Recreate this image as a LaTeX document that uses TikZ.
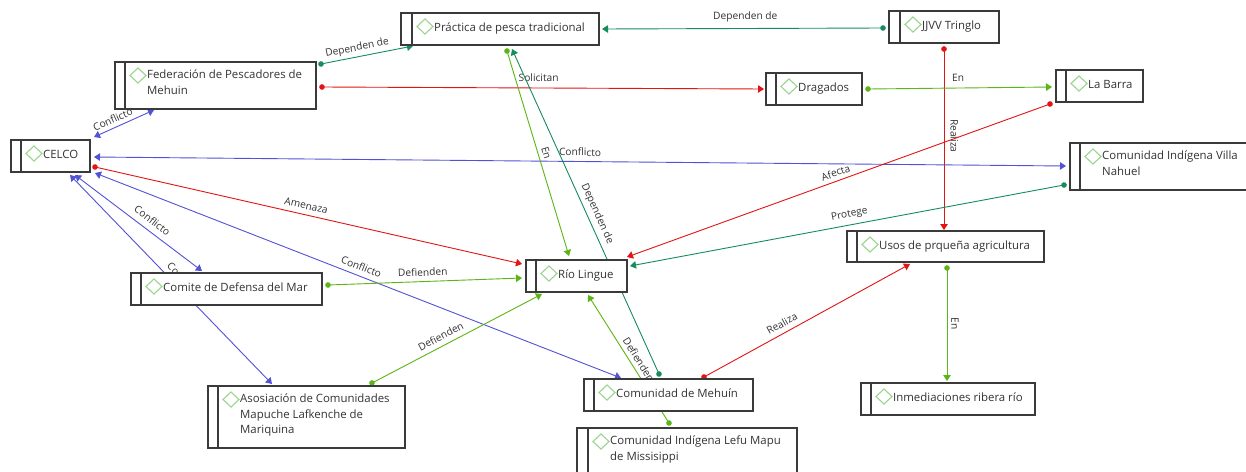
\documentclass[tikz,border=0pt]{standalone}
\usepackage{fontspec}
\newfontfamily\nodefont{Open Sans}
\usetikzlibrary{arrows.meta,backgrounds}
\definecolor{cblue}{HTML}{5252D6}
\definecolor{cred}{HTML}{E31414}
\definecolor{cteal}{HTML}{168C5C}
\definecolor{cgreen}{HTML}{5CB416}
\definecolor{cdiam}{HTML}{9BD48E}
\definecolor{cborder}{HTML}{3A3A3A}
\definecolor{ctext}{HTML}{333333}
\tikzset{
  box/.style={draw=cborder, line width=1.2pt, fill=white, rectangle, inner sep=0pt, outer sep=0pt},
  boxline/.style={draw=cborder, line width=1.2pt},
  diam/.style={draw=cdiam, line width=1.1pt},
  txt/.style={font=\nodefont\fontsize{11.4}{15.5}\selectfont, text=ctext, inner sep=0pt, align=left, execute at begin node=\strut},
  lbl/.style={font=\nodefont\fontsize{10.2}{12}\selectfont, text=ctext, inner sep=1pt},
  conn/.style={line width=0.9pt},
  dotarr/.style={{Circle[length=5.5pt]}-{Triangle[length=6pt,width=7.5pt]}, shorten <=-2.75pt},
  dbl/.style={{Triangle[length=6pt,width=7.5pt]}-{Triangle[length=6pt,width=7.5pt]}}
}
\newcommand\ent[7]{%
  \node[box, anchor=north west, minimum width={(#4-#2)*1pt}, minimum height={(#5-#3)*1pt}] (#1) at (#2,#3) {};
  \draw[boxline] ([xshift={(#6-#2)*1pt}]#1.north west) -- ([xshift={(#6-#2)*1pt}]#1.south west);
  \draw[diam] ([shift={(#6-#2+5,13.5)}]#1.north west) -- ++(8,-7.5) -- ++(8,7.5) -- ++(-8,7.5) -- cycle;
  \node[txt, anchor=north west] (#1-t) at ([shift={(#6-#2+22,7.6)}]#1.north west) {#7};
}
\begin{document}
\begin{tikzpicture}[x=1pt,y=-1pt]
\useasboundingbox (0,0) rectangle (1246,471);
% entities
\ent{prac}{401}{13}{599}{45}{412}{Práctica de pesca tradicional}
\ent{jjvv}{889}{11}{999}{43}{900}{JJVV Tringlo}
\ent{fed}{115}{62}{316}{109}{125}{Federación de Pescadores de\\Mehuin}
\ent{celco}{11}{140}{90}{172}{21}{CELCO}
\ent{drag}{766}{73}{862}{105}{776}{Dragados}
\ent{barra}{1056}{70}{1143}{102}{1066}{La Barra}
\ent{villa}{1070}{143}{1262}{190}{1080}{Comunidad Indígena Villa\\Nahuel}
\ent{rio}{526}{260}{627}{292}{536}{Río Lingue}
\ent{comite}{131}{273}{322}{305}{141}{Comite de Defensa del Mar}
\ent{usos}{847}{231}{1044}{262}{857}{Usos de prqueña agricultura}
\ent{inmed}{861}{383}{1035}{415}{871}{Inmediaciones ribera río}
\ent{asos}{208}{386}{405}{448}{218}{Asosiación de Comunidades\\Mapuche Lafkenche de\\Mariquina}
\ent{mehuin}{584}{379}{753}{411}{594}{Comunidad de Mehuín}
\ent{lefu}{577}{428}{797}{485}{588}{Comunidad Indígena Lefu Mapu\\de Missisippi}
\begin{pgfonlayer}{background}
\fill[white] (0,0) rectangle (1246,471);
% A
\draw[conn, cteal, dotarr] ([shift={(206,2)}]fed.north west) -- node[lbl, pos=.41, sloped, above=2pt] {Dependen de} ([shift={(12,33)}]prac.north west);
% B
\draw[conn, cred, dotarr] ([shift={(207,25)}]fed.north west) -- node[lbl, pos=.49, sloped, above=5pt] {Solicitan} ([shift={(-2,16)}]drag.north west);
% C
\draw[conn, cblue, dbl] ([shift={(83,-3)}]celco.north west) -- node[lbl, pos=.37, sloped, above=3pt] {Conflicto} ([shift={(39,48)}]fed.north west);
% D
\draw[conn, cteal, dotarr] ([shift={(-6,17)}]jjvv.north west) -- node[lbl, pos=.49, sloped, above=5pt] {Dependen de} ([shift={(201,16)}]prac.north west);
% E
\draw[conn, cred, dotarr] ([shift={(55,38)}]jjvv.north west) -- node[lbl, pos=.48, sloped, above=5pt] {Realiza} ([shift={(97,-1)}]usos.north west);
% F
\draw[conn, cgreen, dotarr] ([shift={(102,16)}]drag.north west) -- node[lbl, pos=.49, sloped, above=5pt] {En} ([shift={(-4,17)}]barra.north west);
% G
\draw[conn, cblue, dbl] ([shift={(83,17)}]celco.north west) -- node[lbl, pos=.5, sloped, above=4pt] {Conflicto} ([shift={(-4,23)}]villa.north west);
% H
\draw[conn, cred, dotarr] ([shift={(-6,34)}]barra.north west) -- node[lbl, pos=.5, sloped, above=3pt] {Afecta} ([shift={(101,-3)}]rio.north west);
% I
\draw[conn, cteal, dotarr] ([shift={(-6,42)}]villa.north west) -- node[lbl, pos=.49, sloped, above=4pt] {Protege} ([shift={(104,6)}]rio.north west);
% J
\draw[conn, cred, dotarr] ([shift={(84,27)}]celco.north west) -- node[lbl, pos=.49, sloped, above=4pt] {Amenaza} ([shift={(-4,4)}]rio.north west);
% K1
\draw[conn, cblue, dbl] ([shift={(64,35)}]celco.north west) -- node[lbl, pos=.56, sloped, above=5pt] {Conflicto} ([shift={(71,-2)}]comite.north west);
% K2
\draw[conn, cblue, dbl] ([shift={(59,35)}]celco.north west) -- node[lbl, pos=.53, sloped, above=4pt] {Conflicto} ([shift={(64,-2)}]asos.north west);
% L
\draw[conn, cblue, dbl] ([shift={(84,33)}]celco.north west) -- node[lbl, pos=.5, sloped, above=4pt] {Conflicto} ([shift={(37,-1)}]mehuin.north west);
% M
\draw[conn, cgreen, dotarr] ([shift={(197,12)}]comite.north west) -- node[lbl, pos=.49, sloped, above=4pt] {Defienden} ([shift={(-4,18)}]rio.north west);
% N
\draw[conn, cgreen, dotarr] ([shift={(164,-3)}]asos.north west) -- node[lbl, pos=.43, sloped, above=4pt] {Defienden} ([shift={(16,34)}]rio.north west);
% O
\draw[conn, cgreen, dotarr] ([shift={(106,38)}]prac.north west) -- node[lbl, pos=.51, sloped, above=3pt] {En} ([shift={(43,-4)}]rio.north west);
% P
\draw[conn, cteal, dotarr] ([shift={(75,-5)}]mehuin.north west) -- node[lbl, pos=.48, sloped, above=3pt] {Dependen de} ([shift={(111,36)}]prac.north west);
% Q
\draw[conn, cgreen, dotarr] ([shift={(92,-5)}]lefu.north west) -- node[lbl, pos=.46, sloped, above=3pt] {Defienden} ([shift={(62,35)}]rio.north west);
% R
\draw[conn, cred, dotarr] ([shift={(120,-2)}]mehuin.north west) -- node[lbl, pos=.4, sloped, above=4pt] {Realiza} ([shift={(63,33)}]usos.north west);
% S
\draw[conn, cgreen, dotarr] ([shift={(100,37)}]usos.north west) -- node[lbl, pos=.49, sloped, above=3pt] {En} ([shift={(86,-2)}]inmed.north west);
\end{pgfonlayer}
\end{tikzpicture}
\end{document}
